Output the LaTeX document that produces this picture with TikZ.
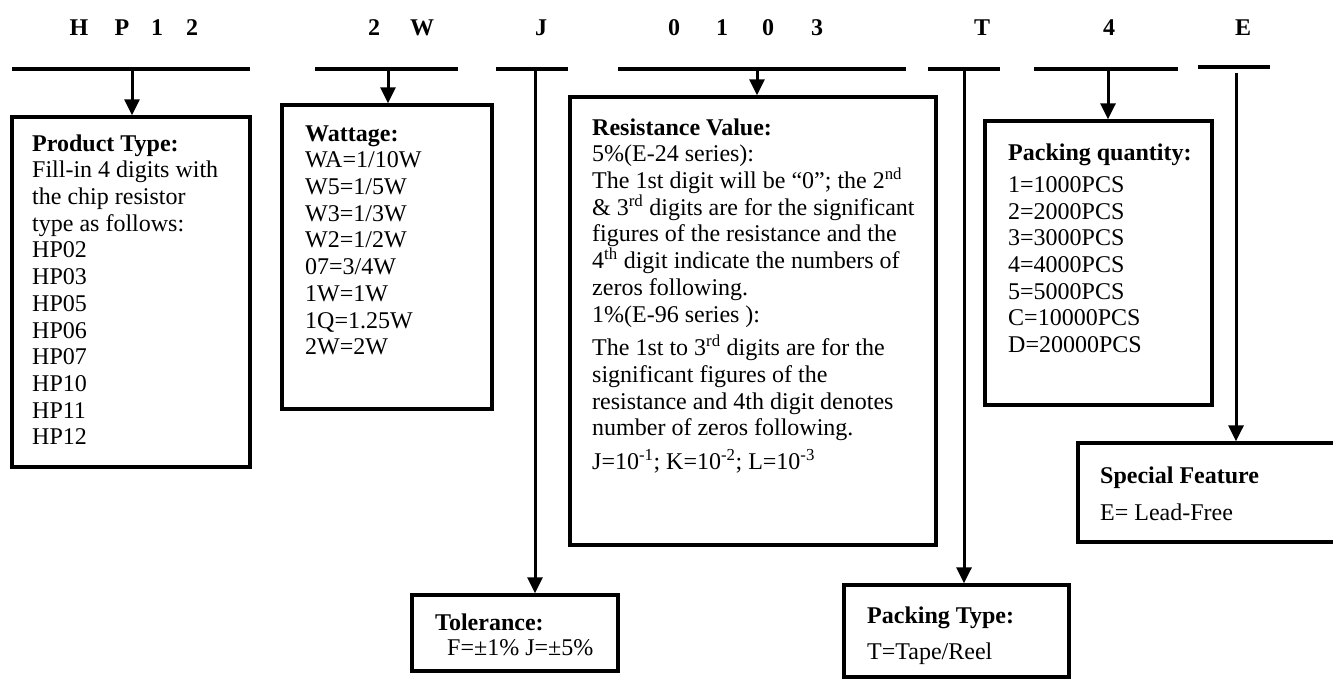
\documentclass[tikz,border=0pt]{standalone}
\usepackage{fontspec}
\setmainfont{Liberation Serif}
\usetikzlibrary{arrows.meta}
\tikzset{
  box/.style={draw, line width=3.3pt, inner sep=0pt, rectangle},
  bar/.style={line width=3.5pt},
  conn/.style={line width=3pt},
  arr/.style={line width=3pt, -{Triangle[length=16pt,width=15pt]}},
  txt/.style={inner sep=0pt, anchor=north west, align=left, font=\fontsize{24}{26.7}\selectfont},
  code/.style={inner sep=0pt, anchor=base, font=\fontsize{24}{26.7}\selectfont\bfseries},
}
\begin{document}
\begin{tikzpicture}[x=1pt,y=-1pt]
\useasboundingbox (0,0) rectangle (1333,680);
\clip (0,0) rectangle (1333,680);
% top code letters
\node[code] (cH) at (79,35) {H};
\node[code] (cP) at (122,35) {P};
\node[code] (c1) at (157,35) {1};
\node[code] (c2) at (192,35) {2};
\node[code] (c2b) at (374,35) {2};
\node[code] (cW) at (422,35) {W};
\node[code] (cJ) at (541,35) {J};
\node[code] (c0a) at (674,35) {0};
\node[code] (c1b) at (722,35) {1};
\node[code] (c0b) at (768,35) {0};
\node[code] (c3) at (817,35) {3};
\node[code] (cT) at (982,35) {T};
\node[code] (c4) at (1109,35) {4};
\node[code] (cE) at (1243,35) {E};
% bars
\coordinate (b1l) at (12,69);   \coordinate (b1r) at (250,69);
\coordinate (b2l) at (315,69);  \coordinate (b2r) at (458,69);
\coordinate (b3l) at (496,69);  \coordinate (b3r) at (568,69);
\coordinate (b4l) at (618,69);  \coordinate (b4r) at (906,69);
\coordinate (b5l) at (928,69);  \coordinate (b5r) at (1000,69);
\coordinate (b6l) at (1034,69); \coordinate (b6r) at (1178,69);
\coordinate (b7l) at (1198,67); \coordinate (b7r) at (1270,67);
\foreach \i in {1,...,7} {\draw[bar] (b\i l) -- (b\i r);}
% boxes
\node[box, minimum width=238, minimum height=350] (bProd) at (131,292) {};
\node[box, minimum width=210, minimum height=304] (bWatt) at (387,257) {};
\node[box, minimum width=366, minimum height=448] (bRes) at (753,321) {};
\node[box, minimum width=206, minimum height=76] (bTol) at (515,633) {};
\node[box, minimum width=225, minimum height=92] (bPT) at (956.5,631) {};
\node[box, minimum width=227, minimum height=284] (bPQ) at (1098.5,263) {};
\node[box, minimum width=267, minimum height=99] (bSF) at (1211.5,492.5) {};
% connectors
\coordinate (s1) at (132,69);
\coordinate (s2) at (388,69);
\coordinate (s3) at (535,69);
\coordinate (s4) at (757,69);
\coordinate (s5) at (964,69);
\coordinate (s6) at (1108,69);
\coordinate (s7) at (1236,73);
\draw[arr] (s1) -- (s1 |- bProd.north);
\draw[arr] (s2) -- (s2 |- bWatt.north);
\draw[arr] (s3) -- (s3 |- bTol.north);
\draw[arr] (s4) -- (s4 |- bRes.north);
\draw[arr] (s5) -- (s5 |- bPT.north);
\draw[arr] (s6) -- (s6 |- bPQ.north);
\draw[arr] (s7) -- (s7 |- bSF.north);
% texts
\node[txt] (tProd) at (32,132.3) {\strut\textbf{Product Type:}\\
Fill-in 4 digits with\\the chip resistor\\type as follows:\\HP02\\HP03\\HP05\\HP06\\HP07\\HP10\\HP11\\HP12};
\node[txt] (tWatt) at (305,122.3) {\strut\textbf{Wattage:}\\
WA=1/10W\\W5=1/5W\\W3=1/3W\\W2=1/2W\\07=3/4W\\1W=1W\\1Q=1.25W\\2W=2W};
\node[txt] (tRes) at (592,116.3) {\strut\textbf{Resistance Value:}\\
5\%(E-24 series):\\
The 1st digit will be “0”; the 2\textsuperscript{nd}\\
\& 3\textsuperscript{rd} digits are for the significant\\
figures of the resistance and the\\
4\textsuperscript{th} digit indicate the numbers of\\
zeros following.\\
1\%(E-96 series ):\\[7pt]
The 1st to 3\textsuperscript{rd} digits are for the\\
significant figures of the\\
resistance and 4th digit denotes\\
number of zeros following.\\[6.5pt]
J=10\textsuperscript{-1}; K=10\textsuperscript{-2}; L=10\textsuperscript{-3}};
\node[txt] (tTol) at (435,611.3) {\strut\textbf{Tolerance:}\\[-1.7pt]
\hspace*{12pt}F=±1\% J=±5\%};
\node[txt] (tPQ) at (1008,141.3) {\strut\textbf{Packing quantity:}\\[5.5pt]
1=1000PCS\\2=2000PCS\\3=3000PCS\\4=4000PCS\\5=5000PCS\\C=10000PCS\\D=20000PCS};
\node[txt] (tSF) at (1100,464.3) {\strut\textbf{Special Feature}\\[11pt]
E= Lead-Free};
\node[txt] (tPT) at (867,604.3) {\strut\textbf{Packing Type:}\\[10pt]
T=Tape/Reel};
\end{tikzpicture}
\end{document}
